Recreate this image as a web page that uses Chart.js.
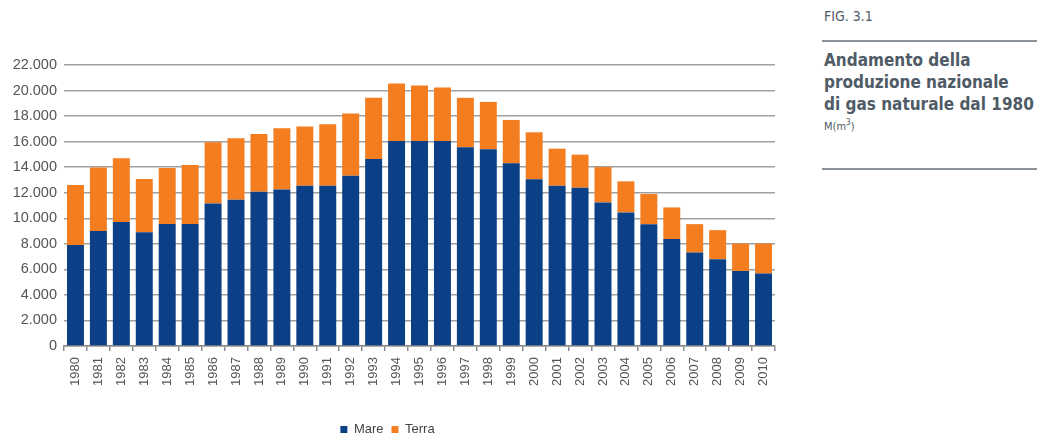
<!DOCTYPE html>
<html>
<head>
<meta charset="utf-8">
<script src="https://cdn.jsdelivr.net/npm/chart.js@4"></script>
<style>
  html, body { margin: 0; padding: 0; background: #fff; }
  body { width: 1037px; height: 436px; position: relative; overflow: hidden;
         font-family: "DejaVu Sans Condensed", "Liberation Sans Narrow", sans-serif; }
  #wrap { position: absolute; left: 0; top: 0; width: 790px; height: 436px; }
  #side { position: absolute; left: 822px; top: 0; width: 215px; color: #4f5b66; }
  #side .fig { position: absolute; top: 8px; left: 2px; font-size: 14px; }
  #side .rule { position: absolute; left: 0; width: 215px; height: 2px; background: #8c9299; }
  #side .title { position: absolute; top: 49px; left: 2px; font-size: 17px; font-weight: bold;
                 line-height: 22px; white-space: nowrap; }
  #side .unit { position: absolute; top: 118px; left: 2px; font-size: 11px; }
</style>
</head>
<body>
<div id="wrap"><canvas id="gas-chart" width="790" height="436"></canvas></div>
<div id="side">
  <div class="fig">FIG. 3.1</div>
  <div class="rule" style="top:40px"></div>
  <div class="title">Andamento della<br>produzione nazionale<br>di gas naturale dal 1980</div>
  <div class="unit">M(m<sup style="font-size:8px">3</sup>)</div>
  <div class="rule" style="top:168px"></div>
</div>
<script>
(function () {
    'use strict';

    var years = ["1980", "1981", "1982", "1983", "1984", "1985", "1986", "1987", "1988", "1989",
                 "1990", "1991", "1992", "1993", "1994", "1995", "1996", "1997", "1998", "1999",
                 "2000", "2001", "2002", "2003", "2004", "2005", "2006", "2007", "2008", "2009", "2010"];

    // offshore production (Mare)
    var mare = [7900, 9000, 9700, 8900, 9550, 9550, 11150, 11450, 12080, 12260,
                12550, 12550, 13330, 14640, 16050, 16050, 16050, 15560, 15400, 14300,
                13050, 12550, 12390, 11240, 10460, 9540, 8370, 7320, 6800, 5880, 5670];

    // onshore production (Terra)
    var terra = [4700, 4980, 4990, 4170, 4380, 4620, 4800, 4810, 4520, 4790,
                 4630, 4810, 4870, 4790, 4500, 4340, 4190, 3870, 3710, 3400,
                 3680, 2900, 2590, 2770, 2430, 2360, 2480, 2220, 2270, 2140, 2350];

    var yTicks = [0, 2000, 4000, 6000, 8000, 10000, 12000, 14000, 16000, 18000, 20000, 22000];

    function fmt(v) {
        return String(v).replace(/\B(?=(\d{3})+(?!\d))/g, '.');
    }

    var font = "'Liberation Sans', Arial, sans-serif";

    new Chart(document.getElementById("gas-chart"), {
        type: 'bar',
        data: {
            labels: years,
            datasets: [{
                label: "Mare",
                backgroundColor: "#0b3f86",
                data: mare
            }, {
                label: "Terra",
                backgroundColor: "#f47d20",
                data: terra
            }]
        },
        options: {
            responsive: false,
            animation: false,
            devicePixelRatio: 1,
            layout: { padding: { top: 65, right: 15, bottom: -10, left: 0 } },
            datasets: { bar: { categoryPercentage: 1, barPercentage: 0.74 } },
            scales: {
                x: {
                    stacked: true,
                    afterFit: function (s) { s.height = 69; },
                    grid: { drawOnChartArea: false, color: "#8a8a8a", tickLength: 5, lineWidth: 1.5 },
                    border: { color: "#8a8a8a", width: 1.5 },
                    ticks: { autoSkip: false, minRotation: 90, maxRotation: 90, color: "#555", padding: 6,
                             font: { family: font, size: 13 } }
                },
                y: {
                    stacked: true,
                    min: 0,
                    max: 22000,
                    afterFit: function (s) { s.width = 64; },
                    afterBuildTicks: function (s) {
                        s.ticks = yTicks.map(function (v) { return { value: v }; });
                    },
                    grid: { color: "#a0a0a0", lineWidth: 1.5, drawTicks: false },
                    border: { display: false },
                    ticks: { color: "#555", padding: 7, font: { family: font, size: 14.5 },
                             callback: function (v) { return fmt(v); } }
                }
            },
            plugins: {
                legend: {
                    position: 'bottom',
                    labels: { boxWidth: 7, boxHeight: 7, padding: 8, color: "#444",
                              font: { family: font, size: 13 } }
                },
                tooltip: { enabled: false }
            }
        }
    });
})();
</script>
</body>
</html>
